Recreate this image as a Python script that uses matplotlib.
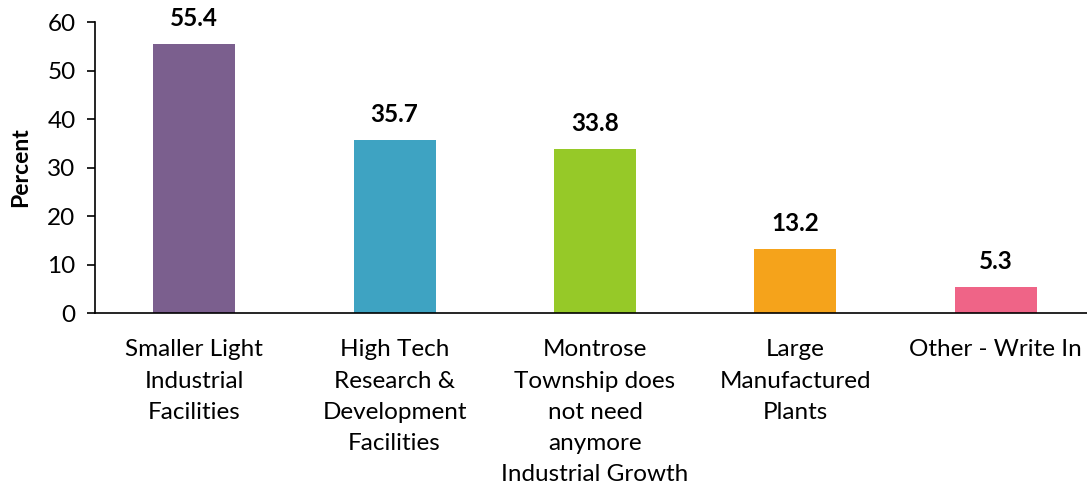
import numpy as np
import matplotlib
matplotlib.use("Agg")
import matplotlib.pyplot as plt

categories = ["Smaller Light\nIndustrial\nFacilities",
              "High Tech\nResearch &\nDevelopment\nFacilities",
              "Montrose\nTownship does\nnot need\nanymore\nIndustrial Growth",
              "Large\nManufactured\nPlants",
              "Other - Write In"]
values = [55.4, 35.7, 33.8, 13.2, 5.3]
colors = ["#7B5F8E", "#3EA3C2", "#96C928", "#F5A31B", "#EF6487"]

plt.rcParams['font.family'] = ['Lato', 'DejaVu Sans']

fig = plt.figure(figsize=(10.87, 4.9), dpi=100)
ax = fig.add_axes([95 / 1087, 1 - 313 / 490, 1 - 95 / 1087, (313 - 22) / 490])

x = np.arange(len(values))
ax.bar(x, values, width=0.41, color=colors)
for xi, v in zip(x, values):
    ax.annotate(f"{v:.1f}", (xi, v), xytext=(0, 10), textcoords='offset points',
                ha='center', va='bottom', fontsize=17.5, fontweight='bold')

ax.set_xlim(-0.495, 4.455)
ax.set_ylim(0, 60)
ax.set_yticks(range(0, 61, 10))
ax.set_xticks(x)
ax.set_xticklabels(categories, fontsize=17.5, linespacing=1.6)
ax.tick_params(axis='x', length=0, pad=19)
ax.tick_params(axis='y', labelsize=17.5, direction='out', length=6, width=1.2, pad=8)
ax.set_ylabel("Percent", fontsize=16.5, fontweight='bold', labelpad=12)

for s in ['top', 'right']:
    ax.spines[s].set_visible(False)
ax.spines['left'].set_linewidth(1.2)
ax.spines['bottom'].set_linewidth(1.2)

fig.savefig("out.png", dpi=100)
